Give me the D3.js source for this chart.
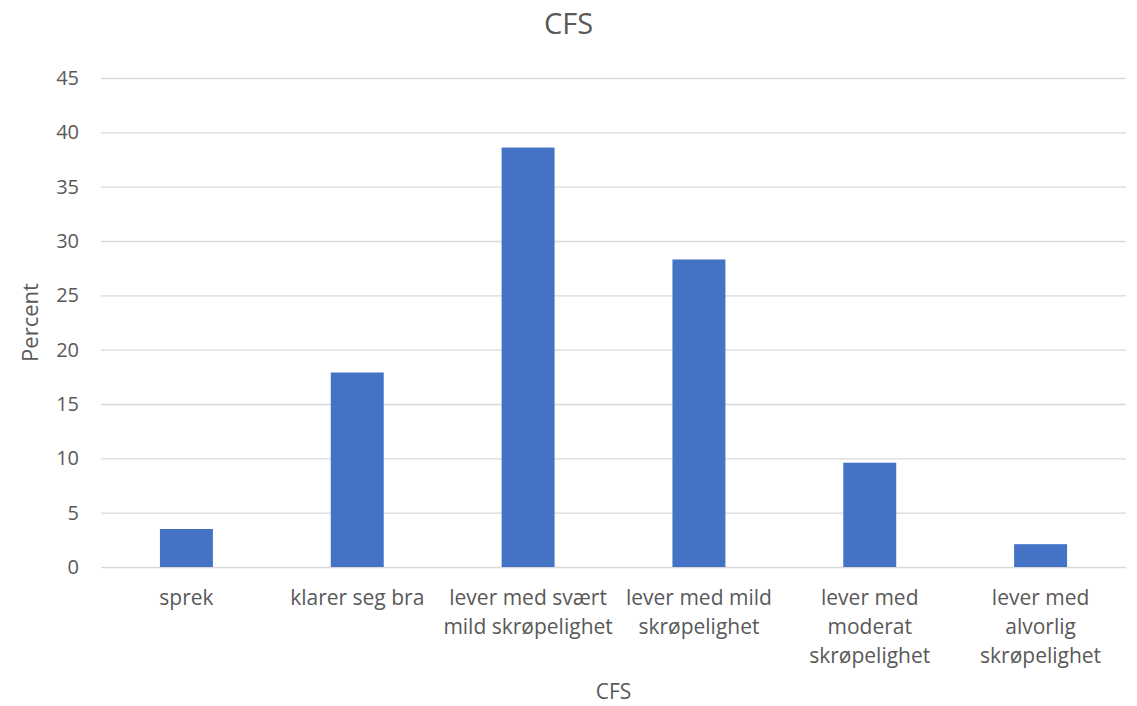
<!DOCTYPE html>
<html>
<head>
<meta charset="utf-8">
<script src="https://cdn.jsdelivr.net/npm/d3@7"></script>
<style>
  html, body { margin: 0; padding: 0; background: #fff; }
  svg text { font-family: "Open Sans", Lato, sans-serif; fill: #595959; }
</style>
</head>
<body>
<svg id="chart" width="1137" height="706"></svg>
<script>
// Clinical Frailty Scale (CFS) distribution, percent of respondents
const categories = [
  "sprek",
  "klarer seg bra",
  "lever med svært mild skrøpelighet",
  "lever med mild skrøpelighet",
  "lever med moderat skrøpelighet",
  "lever med alvorlig skrøpelighet"
];
// wrapped lines for each category label
const categoryLines = [
  ["sprek"],
  ["klarer seg bra"],
  ["lever med svært", "mild skrøpelighet"],
  ["lever med mild", "skrøpelighet"],
  ["lever med", "moderat", "skrøpelighet"],
  ["lever med", "alvorlig", "skrøpelighet"]
];
const percent = [3.5, 17.9, 38.6, 28.3, 9.6, 2.1];
const yTicks = [0, 5, 10, 15, 20, 25, 30, 35, 40, 45];

const svg = d3.select("#chart");
const margin = { left: 101, right: 11, top: 78, bottom: 139 };
const W = 1137, H = 706;

const x = d3.scaleBand()
  .domain(categories)
  .range([margin.left, W - margin.right])
  .paddingInner(0.69)
  .paddingOuter(0.345);

const y = d3.scaleLinear()
  .domain([0, 45])
  .range([H - margin.bottom, margin.top]);

// horizontal gridlines
svg.append("g")
  .selectAll("line")
  .data(yTicks)
  .join("line")
  .attr("x1", margin.left)
  .attr("x2", W - margin.right)
  .attr("y1", d => y(d) + 0.5)
  .attr("y2", d => y(d) + 0.5)
  .attr("stroke", "#d9d9d9")
  .attr("stroke-width", 1.3);

// y tick labels
svg.append("g")
  .selectAll("text")
  .data(yTicks)
  .join("text")
  .attr("x", 79)
  .attr("y", d => y(d))
  .attr("dy", "0.35em")
  .attr("text-anchor", "end")
  .style("font-size", "20px")
  .text(d => d);

// bars
svg.append("g")
  .selectAll("rect")
  .data(percent)
  .join("rect")
  .attr("x", (d, i) => x(categories[i]))
  .attr("width", x.bandwidth())
  .attr("y", d => y(d))
  .attr("height", d => y(0) - y(d))
  .attr("fill", "#4472c4");

// category labels
const labels = svg.append("g")
  .selectAll("text")
  .data(categories)
  .join("text")
  .attr("text-anchor", "middle")
  .style("font-size", "21px")
  .attr("transform", d => `translate(${x(d) + x.bandwidth() / 2},605)`);

labels.each(function(d, i) {
  d3.select(this).selectAll("tspan")
    .data(categoryLines[i])
    .join("tspan")
    .attr("x", 0)
    .attr("y", (t, j) => j * 29)
    .text(t => t);
});

// axis titles
svg.append("text")
  .attr("transform", `translate(38,${(y(0) + y(45)) / 2}) rotate(-90)`)
  .attr("text-anchor", "middle")
  .style("font-size", "22px")
  .text("Percent");

svg.append("text")
  .attr("x", (margin.left + W - margin.right) / 2)
  .attr("y", 699)
  .attr("text-anchor", "middle")
  .style("font-size", "21px")
  .text("CFS");

// chart title
svg.append("text")
  .attr("x", W / 2)
  .attr("y", 34)
  .attr("text-anchor", "middle")
  .style("font-size", "29px")
  .text("CFS");
</script>
</body>
</html>
